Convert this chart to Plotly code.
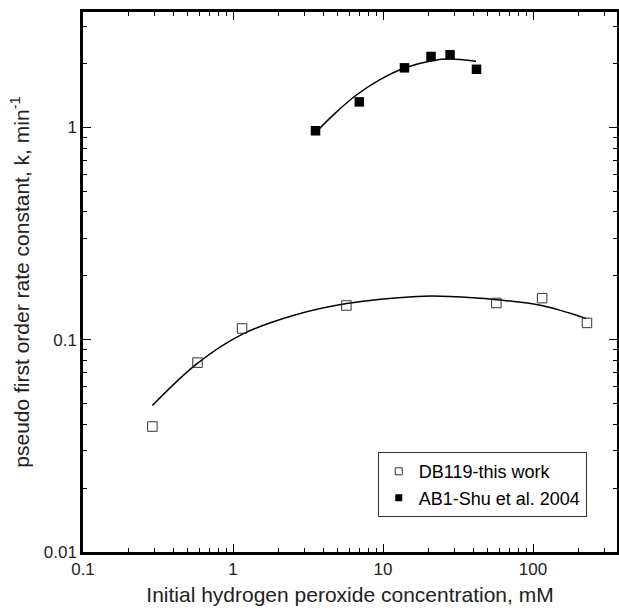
import plotly.graph_objects as go

# ---- data ----
db119_x = [0.29, 0.58, 1.15, 5.7, 57, 115, 229]
db119_y = [0.039, 0.078, 0.113, 0.145, 0.149, 0.157, 0.12]

ab1_x = [3.55, 6.95, 13.9, 20.9, 28, 42]
ab1_y = [0.965, 1.32, 1.91, 2.16, 2.2, 1.88]

# fitted curves
db119_fit_x = [0.29, 0.573, 1.15, 2.52, 5.73, 16.8, 28, 57.3, 114, 228]
db119_fit_y = [0.049, 0.077, 0.106, 0.130, 0.148, 0.160, 0.160, 0.1545, 0.145, 0.1257]
ab1_fit_x = [3.61, 4.67, 6.68, 9.55, 13.9, 21.6, 28, 41.7]
ab1_fit_y = [0.957, 1.147, 1.426, 1.68, 1.906, 2.07, 2.10, 2.05]

x_tickvals = [0.1, 1, 10, 100]
x_ticktext = ["0.1", "1", "10", "100"]
y_tickvals = [0.01, 0.1, 1]
y_ticktext = ["0.01", "0.1", "1"]

series_names = ["DB119-this work", "AB1-Shu et al. 2004"]

x_minor = [k * 10 ** e for e in range(-1, 3) for k in range(2, 10)]
y_minor = [k * 10 ** e for e in range(-2, 1) for k in range(2, 10)]

X_RANGE = [-1, 2.56]
Y_RANGE = [-2, 0.544]

FONT = "Liberation Sans, Arial, Helvetica, sans-serif"

fig = go.Figure()

fig.add_trace(go.Scatter(x=db119_fit_x, y=db119_fit_y, mode="lines",
                         line=dict(color="black", width=1.5, shape="spline"),
                         showlegend=False, hoverinfo="skip"))
fig.add_trace(go.Scatter(x=ab1_fit_x, y=ab1_fit_y, mode="lines",
                         line=dict(color="black", width=1.5, shape="spline"),
                         showlegend=False, hoverinfo="skip"))

fig.add_trace(go.Scatter(x=db119_x, y=db119_y, mode="markers", name=series_names[0],
                         marker=dict(symbol="square-open", size=9.5, color="#333333",
                                     line=dict(width=1, color="#333333")),
                         showlegend=False))
fig.add_trace(go.Scatter(x=ab1_x, y=ab1_y, mode="markers", name=series_names[1],
                         marker=dict(symbol="square", size=9.5, color="black"),
                         showlegend=False))

# legend entries (small symbols as in the reference)
fig.add_trace(go.Scatter(x=[None], y=[None], mode="markers", name=series_names[0],
                         marker=dict(symbol="square-open", size=7, color="#333333",
                                     line=dict(width=1, color="#333333"))))
fig.add_trace(go.Scatter(x=[None], y=[None], mode="markers", name=series_names[1],
                         marker=dict(symbol="square", size=7, color="black")))

# invisible trace carrying the top / right tick axes
fig.add_trace(go.Scatter(x=[None], y=[None], xaxis="x2", yaxis="y2",
                         mode="markers", showlegend=False, hoverinfo="skip"))

tick_common = dict(
    type="log",
    ticks="inside", ticklen=8, tickwidth=1.2, tickcolor="black",
    showgrid=False, zeroline=False,
    tickfont=dict(family=FONT, size=17, color="#222222"),
)
minor_common = dict(ticks="inside", ticklen=4, tickwidth=1.2, tickcolor="black",
                    tickmode="array", showgrid=False)

fig.update_layout(
    xaxis=dict(
        **tick_common,
        showline=True, linecolor="black", linewidth=2.5, mirror="allticks",
        range=X_RANGE,
        tickmode="array", tickvals=x_tickvals, ticktext=x_ticktext,
        minor=dict(**minor_common, tickvals=x_minor),
        title=dict(text="Initial hydrogen peroxide concentration, mM",
                   font=dict(family=FONT, size=21, color="#222222"), standoff=10),
    ),
    yaxis=dict(
        **tick_common,
        showline=True, linecolor="black", linewidth=2.5, mirror="allticks",
        range=Y_RANGE,
        tickmode="array", tickvals=y_tickvals, ticktext=y_ticktext,
        minor=dict(**minor_common, tickvals=y_minor),
        title=dict(text="pseudo first order rate constant, k, min<sup>-1</sup>",
                   font=dict(family=FONT, size=21, color="#222222"), standoff=9),
    ),
    xaxis2=dict(
        **tick_common,
        overlaying="x", side="top", anchor="y2",
        range=X_RANGE, showline=False, showticklabels=False,
        tickmode="array", tickvals=x_tickvals,
        minor=dict(**minor_common, tickvals=x_minor),
    ),
    yaxis2=dict(
        **tick_common,
        overlaying="y", side="right", anchor="x2",
        range=Y_RANGE, showline=False, showticklabels=False,
        tickmode="array", tickvals=y_tickvals,
        minor=dict(**minor_common, tickvals=y_minor),
    ),
)

fig.update_layout(
    width=619, height=610,
    margin=dict(l=83, r=2, t=12, b=58, autoexpand=False),
    paper_bgcolor="white", plot_bgcolor="white",
    showlegend=True,
    legend=dict(x=0.552, y=0.185, xanchor="left", yanchor="top",
                bgcolor="white", bordercolor="#333333", borderwidth=1,
                font=dict(family=FONT, size=18, color="black"),
                tracegroupgap=0, itemwidth=30),
)

fig.write_html("out.html",
               config={"displayModeBar": False},
               post_script="document.body.style.margin='0px';document.body.style.padding='0px';")
